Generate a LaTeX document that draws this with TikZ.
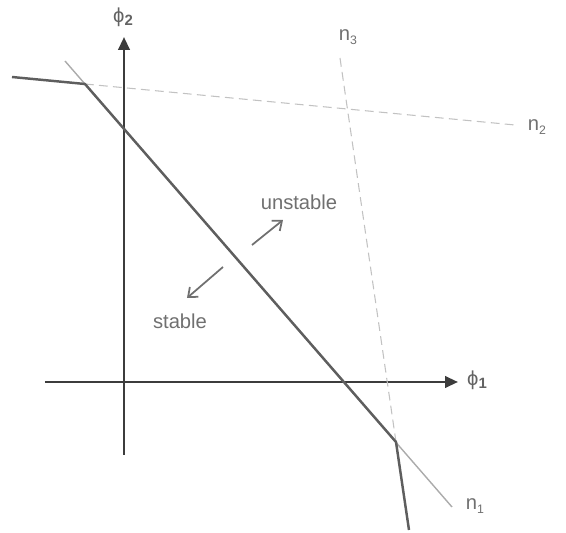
\documentclass[tikz,border=0pt]{standalone}
\usepackage{fontspec}
\setmainfont{Liberation Sans}
\usepackage{xcolor}
\usepackage{tikz}
\usetikzlibrary{positioning, arrows.meta}

\definecolor{axisgray}{HTML}{3C3C3C}
\definecolor{limitgray}{HTML}{5E5E5E}
\definecolor{thingray}{HTML}{ABABAB}
\definecolor{dashgray}{HTML}{C2C2C2}
\definecolor{textgray}{HTML}{707070}

\begin{document}
\begin{tikzpicture}[
    x=0.02cm, y=-0.02cm,
    every node/.style={text=textgray, font=\fontsize{11.5}{13}\selectfont, inner sep=0pt},
    axis/.style={draw=axisgray, line width=1.4pt, -{Triangle[length=2.6mm, width=2.3mm]}},
    limit/.style={draw=limitgray, line width=1.4pt, line join=round},
    nline/.style={draw=thingray, line width=0.8pt},
    nbound/.style={draw=dashgray, line width=0.6pt, dash pattern=on 5pt off 3pt},
    drift/.style={draw=textgray, line width=1pt, -{Straight Barb[length=1.6mm, width=2.6mm]}}
]
\useasboundingbox (0,0) rectangle (566,533);

% points where the boundaries meet
\coordinate (n1top) at (65,61);
\coordinate (n1end) at (452,507);
\coordinate (n2start) at (12,77);
\coordinate (n2end) at (515,125);
\coordinate (n3top) at (340,58);
\coordinate (n3end) at (409,530);
\coordinate (kinkA) at (85,84);
\coordinate (kinkB) at (396,442);

% axes
\coordinate (xstart) at (45,382);
\coordinate (xend) at (458,382);
\coordinate (ystart) at (124,455);
\coordinate (yend) at (124,37);
\draw[axis] (xstart) -- (xend);
\draw[axis] (ystart) -- (yend);
\node (phi1) at (477,380) {\color{axisgray!80}ϕ\raisebox{-0.35ex}{\fontsize{8.5}{9}\selectfont\bfseries 1}};
\node (phi2) at (123,17) {\color{axisgray!80}ϕ\raisebox{-0.35ex}{\fontsize{8.5}{9}\selectfont\bfseries 2}};

% boundary lines
\draw[nline] (n1top) -- (n1end);
\draw[nbound] (kinkA) -- (n2end);
\draw[nbound] (n3top) -- (kinkB);
\node (n1) at (475,506) {n\raisebox{-0.4ex}{\scriptsize 1}};
\node (n2) at (537,127) {n\raisebox{-0.4ex}{\scriptsize 2}};
\node (n3) at (348,37) {n\raisebox{-0.4ex}{\scriptsize 3}};

% stability limit
\draw[limit] (n2start) -- (kinkA) -- (kinkB) -- (n3end);

% regions
\node (unstable) at (299,202) {unstable};
\node (stable) at (180,321) {stable};
\coordinate (upfrom) at (252,245);
\coordinate (upto) at (283,220);
\coordinate (downfrom) at (223,267);
\coordinate (downto) at (187,298);
\draw[drift] (upfrom) -- (upto);
\draw[drift] (downfrom) -- (downto);
\end{tikzpicture}
\end{document}
